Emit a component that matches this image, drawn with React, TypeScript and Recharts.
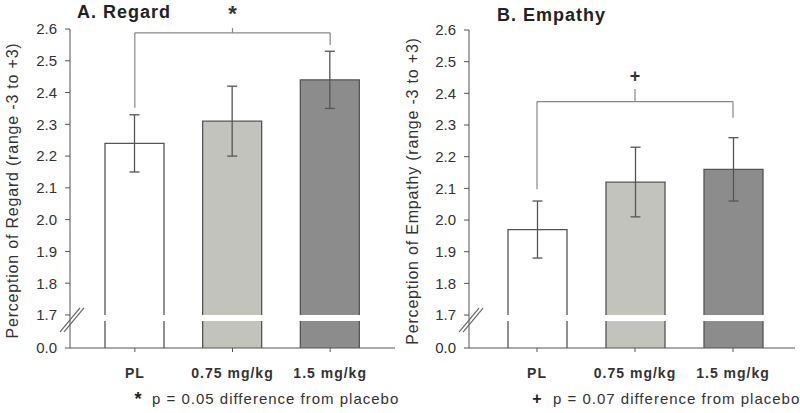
import { BarChart, Bar, XAxis, YAxis, ErrorBar, ReferenceLine, ReferenceDot } from 'recharts'

const categories = ['PL', '0.75 mg/kg', '1.5 mg/kg']
const regardMeans = [2.24, 2.31, 2.44]
const regardErrors = [0.09, 0.11, 0.09]
const empathyMeans = [1.97, 2.12, 2.16]
const empathyErrors = [0.09, 0.11, 0.1]
const tickValues = [0, 1.7, 1.8, 1.9, 2.0, 2.1, 2.2, 2.3, 2.4, 2.5, 2.6]

// bracket annotations, in data units
const regardBracket = { level: 2.588, left: 2.352, right: 2.55, peak: 2.603, mark: '*', markAt: 2.626 }
const empathyBracket = { level: 2.374, left: 2.097, right: 2.323, peak: 2.414, mark: '+', markAt: 2.435 }

// axis is broken at 1.7: the 0–1.7 stretch is squeezed into a short stub
const BREAK = 1.7
const STUB = 1.04
const toPlot = (v: number) => (v >= BREAK ? STUB + (v - BREAK) * 10 : (v / BREAK) * STUB)
const TOP = toPlot(2.6)

const barFills = ['#ffffff', '#c3c3be', '#8c8c8c']
const ink = '#555555'
const font = '"Liberation Sans", Arial, sans-serif'

const buildRows = (means: number[], errs: number[]) =>
  categories.map((name, i) => ({ name, value: means[i], plot: toPlot(means[i]), err: errs[i] * 10 }))

const BrokenBar = (props: any) => {
  const { x, y, width, height, index, payload } = props
  const bottom = y + height
  const perUnit = height / payload.plot
  const gapTop = bottom - STUB * perUnit
  const gapBottom = gapTop + 6
  return (
    <g>
      <rect x={x} y={y} width={width} height={gapTop - y} fill={barFills[index]} />
      <rect x={x} y={gapBottom} width={width} height={bottom - gapBottom} fill={barFills[index]} />
      <path
        d={`M${x},${gapTop}V${y}H${x + width}V${gapTop}M${x},${gapBottom}V${bottom}M${x + width},${gapBottom}V${bottom}`}
        stroke={ink}
        strokeWidth={1.3}
        fill="none"
      />
    </g>
  )
}

const YTick = (props: any) => {
  const { x, y, payload, index } = props
  const label = tickValues[index] !== undefined ? tickValues[index].toFixed(1) : ''
  const ax = x + 13
  return (
    <g>
      <text x={x} y={y} dy="0.36em" textAnchor="end" fontSize={15} fill="#333" fontFamily={font}>
        {label}
      </text>
      {tickValues[index] === BREAK && (
        <g stroke="#666" strokeWidth={1.2}>
          <line x1={ax - 10} y1={y + 17} x2={ax + 10} y2={y - 7} />
          <line x1={ax - 6} y1={y + 17} x2={ax + 14} y2={y - 7} />
        </g>
      )}
    </g>
  )
}

const AxisTitle = ({ viewBox, text }: any) => {
  const cy = viewBox.y + viewBox.height / 2 + 2
  return (
    <text
      x={12}
      y={cy}
      transform={`rotate(-90, 12, ${cy})`}
      textAnchor="middle"
      dominantBaseline="central"
      fontSize={16}
      fill="#333"
      fontFamily={font}
      style={{ letterSpacing: 0.8 }}
    >
      {text}
    </text>
  )
}

const MarkLabel = ({ viewBox, value, size }: any) => (
  <text
    x={viewBox.x + viewBox.width / 2}
    y={viewBox.y + viewBox.height / 2}
    textAnchor="middle"
    fontSize={size}
    fontWeight="bold"
    fill="#333"
    fontFamily={font}
  >
    {value}
  </text>
)

function Panel({ rows, bracket, axisTitle, top, yWidth, pad, markSize }: any) {
  const seg = (a: any, b: any) => [a, b]
  return (
    <BarChart width={400} height={413} data={rows} margin={{ top, right: 5, bottom: 35, left: 0 }}>
      <XAxis
        dataKey="name"
        height={30}
        padding={pad}
        stroke={ink}
        tickSize={4}
        tickMargin={16}
        tick={{ fontSize: 14, fontWeight: 'bold', fill: '#333', fontFamily: font, style: { letterSpacing: 1 } } as any}
      />
      <YAxis
        type="number"
        domain={[0, TOP]}
        ticks={tickValues.map(toPlot)}
        interval={0}
        width={yWidth}
        stroke={ink}
        tickSize={5}
        tickMargin={8}
        tick={<YTick />}
        label={<AxisTitle text={axisTitle} />}
      />
      <Bar dataKey="plot" barSize={59} shape={<BrokenBar />} isAnimationActive={false}>
        <ErrorBar dataKey="err" width={5} stroke={ink} strokeWidth={1.3} direction="y" isAnimationActive={false} />
      </Bar>
      <ReferenceLine
        segment={seg({ x: categories[0], y: toPlot(bracket.left) }, { x: categories[0], y: toPlot(bracket.level) })}
        stroke="#888"
        strokeWidth={1.2}
        ifOverflow="visible"
      />
      <ReferenceLine
        segment={seg({ x: categories[0], y: toPlot(bracket.level) }, { x: categories[2], y: toPlot(bracket.level) })}
        stroke="#888"
        strokeWidth={1.2}
        ifOverflow="visible"
      />
      <ReferenceLine
        segment={seg({ x: categories[2], y: toPlot(bracket.level) }, { x: categories[2], y: toPlot(bracket.right) })}
        stroke="#888"
        strokeWidth={1.2}
        ifOverflow="visible"
      />
      <ReferenceLine
        segment={seg({ x: categories[1], y: toPlot(bracket.level) }, { x: categories[1], y: toPlot(bracket.peak) })}
        stroke="#888"
        strokeWidth={1.2}
        ifOverflow="visible"
      />
      <ReferenceDot
        x={categories[1]}
        y={toPlot(bracket.markAt)}
        r={0}
        ifOverflow="visible"
        label={<MarkLabel value={bracket.mark} size={markSize} />}
      />
    </BarChart>
  )
}

export default function App() {
  return (
    <div style={{ position: 'absolute', left: 0, top: 0, width: 800, height: 413, background: '#fff' }}>
      <div style={{ position: 'absolute', left: 0, top: 0 }}>
        <Panel
          rows={buildRows(regardMeans, regardErrors)}
          bracket={regardBracket}
          axisTitle="Perception of Regard (range -3 to +3)"
          top={29}
          yWidth={70}
          pad={{ left: 16, right: 16 }}
          markSize={22}
        />
      </div>
      <div style={{ position: 'absolute', left: 400, top: 0 }}>
        <Panel
          rows={buildRows(empathyMeans, empathyErrors)}
          bracket={empathyBracket}
          axisTitle="Perception of Empathy (range -3 to +3)"
          top={30}
          yWidth={69}
          pad={{ left: 19, right: 13 }}
          markSize={18}
        />
      </div>
      <svg width={800} height={413} style={{ position: 'absolute', left: 0, top: 0, pointerEvents: 'none' }} fontFamily={font} fill="#222">
        <text x={77} y={18} fontSize={18} fontWeight="bold" style={{ letterSpacing: 1 }}>A. Regard</text>
        <text x={497} y={21} fontSize={18} fontWeight="bold" style={{ letterSpacing: 1 }}>B. Empathy</text>
        <text x={138} y={405} fontSize={18} fontWeight="bold" textAnchor="middle">*</text>
        <text x={152} y={404} fontSize={15} fill="#333" style={{ letterSpacing: 1 }}>p = 0.05 difference from placebo</text>
        <text x={537} y={404} fontSize={16} fontWeight="bold" textAnchor="middle">+</text>
        <text x={553} y={404} fontSize={15} fill="#333" style={{ letterSpacing: 1 }}>p = 0.07 difference from placebo</text>
      </svg>
    </div>
  )
}
